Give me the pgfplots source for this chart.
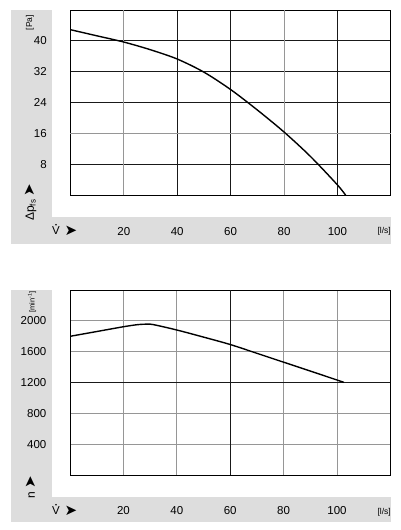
\documentclass[border=0pt]{standalone}
\usepackage{fontspec}
\setmainfont{Liberation Sans}
\newfontfamily\dejavu{DejaVu Sans}
\usepackage{pgfplots}
\pgfplotsset{compat=1.18}
\definecolor{bggray}{RGB}{221,221,221}
\definecolor{gridgray}{RGB}{150,150,150}
\definecolor{griddark}{RGB}{25,25,25}

\pgfplotsset{fanstyle/.style={
  scale only axis, width=320.4pt, height=185.3pt,
  xmin=0, xmax=120,
  axis line style={black, line width=0.9pt},
  grid=major, major grid style={griddark, line width=0.8pt},
  major tick length=0pt,
  /pgf/number format/assume math mode=true,
  /pgf/number format/1000 sep={},
  tick label style={font=\fontsize{11.5}{12}\selectfont, inner sep=0pt},
  yticklabel style={anchor=east, xshift=-23.5pt},
  xticklabel style={anchor=center},
  axis background/.style={fill=white},
}}

\begin{document}
\begin{tikzpicture}[x=1pt,y=1pt]
\path[use as bounding box] (0,0) rectangle (400,530);
% gray frames
\fill[bggray] (11,520) rectangle (51.7,313.3);
\fill[bggray] (11,313.3) rectangle (390.7,286);
\fill[bggray] (11,240) rectangle (51.7,33.3);
\fill[bggray] (11,33.3) rectangle (390.7,7.7);

% ---------- top chart ----------
\begin{axis}[fanstyle,
  at={(70.4pt,334.7pt)}, anchor=south west,
  ymin=0, ymax=48,
  xtick={40,60,100}, extra x ticks={20,80},
  extra x tick style={major grid style={gridgray, line width=0.8pt}},
  ytick={8,24,32,40}, extra y ticks={16},
  extra y tick style={major grid style={gridgray, line width=0.8pt}},
  xticklabel style={yshift=-36pt},
]
\addplot[black, line width=1.4pt, smooth] coordinates {
 (0,42.9) (10,41.3) (20,39.7) (30,37.7) (40,35.3) (50,31.9)
 (60,27.4) (70,22.1) (80,16.4) (90,10.0) (100,2.7) (103.1,0)};
\end{axis}

% ---------- bottom chart ----------
\begin{axis}[fanstyle,
  at={(70.0pt,54.7pt)}, anchor=south west,
  ymin=0, ymax=2400,
  major grid style={gridgray, line width=0.8pt},
  xtick={20,40,80,100}, extra x ticks={60},
  extra x tick style={major grid style={griddark, line width=0.8pt}},
  ytick={400,800,1600,2000}, extra y ticks={1200},
  extra y tick style={major grid style={griddark, line width=0.8pt}},
  xticklabel style={yshift=-35pt},
]
\addplot[black, line width=1.4pt, smooth] coordinates {
 (0,1800) (10,1862) (20,1924) (25,1950) (28,1957) (31,1953)
 (40,1882) (50,1790) (60,1694) (70,1580) (80,1465) (90,1350) (102.6,1204)};
\end{axis}

% ---------- labels top ----------
\node[font=\fontsize{8.5}{9}\selectfont, rotate=90, inner sep=0pt] at (30,507.5) {[Pa]};
\node[font=\fontsize{12}{13}\selectfont, rotate=90, inner sep=0pt] at (31,320) {Δp\textsubscript{fs}};
\node[font=\dejavu\fontsize{15}{16}\selectfont, rotate=90, inner sep=0pt] at (29.5,340) {➤};
\node[font=\fontsize{11.5}{12}\selectfont, anchor=base, inner sep=0pt] at (56,295) {V};
\fill (56,305.3) circle (0.9);
\node[font=\dejavu\fontsize{15}{16}\selectfont, inner sep=0pt] at (71,299.5) {➤};
\node[font=\fontsize{8.5}{9}\selectfont, anchor=base east, inner sep=0pt] at (391,296) {[l/s]};

% ---------- labels bottom ----------
\node[font=\fontsize{7.5}{8}\selectfont, rotate=90, inner sep=0pt] at (32,228) {[min\textsuperscript{-1}]};
\node[font=\fontsize{12}{13}\selectfont, rotate=90, inner sep=0pt] at (31.7,35) {n};
\node[font=\dejavu\fontsize{15}{16}\selectfont, rotate=90, inner sep=0pt] at (30.5,47.5) {➤};
\node[font=\fontsize{11.5}{12}\selectfont, anchor=base, inner sep=0pt] at (56,15) {V};
\fill (56,25.3) circle (0.9);
\node[font=\dejavu\fontsize{15}{16}\selectfont, inner sep=0pt] at (71,19.5) {➤};
\node[font=\fontsize{8.5}{9}\selectfont, anchor=base east, inner sep=0pt] at (391,16) {[l/s]};
\end{tikzpicture}
\end{document}
